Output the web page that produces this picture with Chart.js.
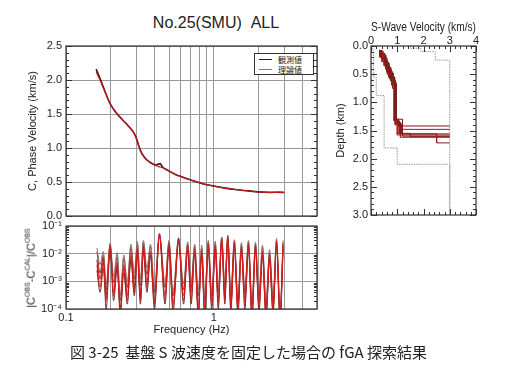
<!DOCTYPE html>
<html>
<head>
<meta charset="utf-8">
<script src="https://cdn.jsdelivr.net/npm/chart.js@4.4.1/dist/chart.umd.min.js"></script>
<style>
  body { margin: 0; background: #fff; width: 528px; height: 372px; position: relative; overflow: hidden;
         font-family: "Liberation Sans", Arial, sans-serif; color: #222; }
  canvas { position: absolute; }
  #title { position: absolute; left: 66px; width: 300px; top: 14px; text-align: center; font-size: 16px; }
  #legend { position: absolute; left: 254px; top: 53px; width: 58px; height: 20px; border: 1px solid #333;
            background: #fff; font-family: "Noto Sans CJK JP"; font-size: 8px; line-height: 9px; }
  #legend div { position: relative; height: 9px; padding-left: 23px; margin-top: 1px; }
  #legend span { position: absolute; left: 4px; top: 4px; width: 13px; height: 0; border-top: 1px solid; }
  #ylab2 { position: absolute; left: 30px; top: 268px; transform: translate(-50%, -50%) rotate(-90deg);
           white-space: nowrap; font-size: 11px; }
  #ylab2 sup { font-size: 7px; }
  #cap { position: absolute; left: 70px; top: 341px; font-family: "Noto Sans CJK JP"; font-size: 15px; white-space: nowrap; }
</style>
</head>
<body>
<div id="title">No.25(SMU)&nbsp;&nbsp;ALL</div>
<canvas id="chartPhase" width="330" height="220" style="left:0;top:0"></canvas>
<canvas id="chartMisfit" width="330" height="130" style="left:0;top:220px"></canvas>
<canvas id="chartProfile" width="198" height="230" style="left:330px;top:0"></canvas>
<div id="legend">
  <div><span style="border-color:#222"></span>観測値</div>
  <div><span style="border-color:#a07070"></span>理論値</div>
</div>
<div id="ylab2">|C<sup>OBS</sup>-C<sup>CAL</sup>|/C<sup>OBS</sup></div>
<div id="cap">図 3-25&nbsp; 基盤 S 波速度を固定した場合の fGA 探索結果</div>

<script>
// phase velocity dispersion (Hz, km/s)
const phaseFreq = [0.16, 0.17, 0.18, 0.19, 0.20, 0.21, 0.22, 0.24, 0.26, 0.28,
                   0.29, 0.30, 0.31, 0.32, 0.33, 0.35, 0.37, 0.40, 0.42, 0.435,
                   0.45, 0.48, 0.5, 0.55, 0.6, 0.7, 0.8, 0.9, 1.0, 1.2,
                   1.4, 1.7, 2.0, 2.4, 2.7, 3.0];
const obsVel = [2.16, 2.02, 1.88, 1.75, 1.64, 1.57, 1.51, 1.42, 1.34, 1.26,
                1.21, 1.14, 1.04, 0.96, 0.90, 0.83, 0.79, 0.75, 0.76, 0.77,
                0.72, 0.68, 0.66, 0.61, 0.58, 0.53, 0.49, 0.46, 0.44, 0.41,
                0.39, 0.37, 0.355, 0.35, 0.35, 0.345];
const calcVel = [2.12, 2.00, 1.87, 1.75, 1.64, 1.57, 1.51, 1.42, 1.34, 1.26,
                 1.21, 1.13, 1.03, 0.95, 0.90, 0.83, 0.79, 0.75, 0.73, 0.72,
                 0.71, 0.68, 0.66, 0.61, 0.58, 0.53, 0.49, 0.46, 0.44, 0.41,
                 0.39, 0.37, 0.355, 0.345, 0.35, 0.345];

// relative misfit |Cobs-Ccal|/Cobs
const misfitFreq = [0.162, 0.170, 0.179, 0.187, 0.199, 0.210, 0.222, 0.233, 0.246, 0.260,
                    0.275, 0.290, 0.304, 0.319, 0.334, 0.353, 0.373, 0.397, 0.429, 0.468,
                    0.498, 0.530, 0.578, 0.625, 0.666, 0.703, 0.743, 0.785, 0.829, 0.869,
                    0.918, 0.969, 1.024, 1.073, 1.133, 1.188, 1.245, 1.305, 1.379, 1.457,
                    1.539, 1.625, 1.717, 1.814, 1.916, 2.024, 2.138, 2.259, 2.386, 2.520,
                    2.662, 2.812, 2.947];
const misfitA = [0.016, 0.004, 0.012, 0.0008, 0.024, 0.0015, 0.011, 0.0003, 0.009, 0.001,
                 0.022, 0.002, 0.028, 0.0012, 0.03, 0.003, 0.022, 0.0006, 0.055, 0.0009,
                 0.03, 0.0004, 0.038, 0.0008, 0.027, 0.0009, 0.022, 0.0005, 0.02, 0.0003,
                 0.03, 0.0004, 0.028, 0.0006, 0.04, 0.0009, 0.046, 0.0004, 0.032, 0.0003,
                 0.025, 0.0006, 0.03, 0.0002, 0.026, 0.0004, 0.02, 0.0002, 0.014, 0.0003,
                 0.035, 0.0001, 0.03];
const misfitB = [0.012, 0.002, 0.009, 0.0005, 0.02, 0.0009, 0.008, 0.0002, 0.007, 0.0006,
                 0.017, 0.0012, 0.022, 0.0007, 0.025, 0.0018, 0.018, 0.0004, 0.05, 0.0006,
                 0.026, 0.0003, 0.034, 0.0005, 0.022, 0.0006, 0.018, 0.0003, 0.016, 0.0002,
                 0.026, 0.0003, 0.024, 0.0004, 0.036, 0.0006, 0.042, 0.0003, 0.028, 0.0002,
                 0.02, 0.0004, 0.026, 0.00015, 0.022, 0.0003, 0.017, 0.00012, 0.011, 0.0002,
                 0.03, 0.00008, 0.026];
const misfitC = [0.006, 0.0012, 0.007, 0.0003, 0.022, 0.0004, 0.005, 0.00008, 0.004, 0.0003,
                 0.011, 0.0006, 0.016, 0.0003, 0.02, 0.0009, 0.012, 0.0002, 0.052, 0.0003,
                 0.024, 0.00015, 0.036, 0.0003, 0.02, 0.0004, 0.015, 0.0001, 0.013, 0.00009,
                 0.024, 0.0002, 0.02, 0.0002, 0.038, 0.0003, 0.044, 0.00012, 0.026, 0.0001,
                 0.018, 0.0002, 0.024, 0.00006, 0.02, 0.00015, 0.012, 0.00007, 0.009, 0.0001,
                 0.028, 0.00005, 0.022];
const misfitD = [0.004, 0.0006, 0.005, 0.0002, 0.018, 0.0003, 0.004, 0.0001, 0.003, 0.0002,
                 0.008, 0.0004, 0.012, 0.0002, 0.015, 0.0006, 0.01, 0.00015, 0.048, 0.0002,
                 0.02, 0.0001, 0.03, 0.0002, 0.016, 0.0002, 0.012, 0.00008, 0.011, 0.00006,
                 0.02, 0.00012, 0.017, 0.00015, 0.033, 0.0002, 0.04, 0.0001, 0.022, 0.00008,
                 0.015, 0.00015, 0.02, 0.00005, 0.017, 0.0001, 0.01, 0.00005, 0.008, 0.00008,
                 0.024, 0.00004, 0.018];
const misfitE = [0.0025, 0.0004, 0.003, 0.0001, 0.014, 0.0002, 0.003, 0.00006, 0.002, 0.00015,
                 0.006, 0.0003, 0.009, 0.00015, 0.011, 0.0004, 0.008, 0.0001, 0.045, 0.00015,
                 0.017, 0.00008, 0.026, 0.00015, 0.013, 0.00015, 0.01, 0.00006, 0.009, 0.00005,
                 0.016, 0.0001, 0.014, 0.0001, 0.03, 0.00015, 0.036, 0.00008, 0.019, 0.00006,
                 0.012, 0.0001, 0.017, 0.00004, 0.014, 0.00008, 0.008, 0.00004, 0.006, 0.00006,
                 0.02, 0.00003, 0.015];

// S-wave velocity models: layer boundaries (km) and Vs per layer (km/s)
const modelDepths = [
  [0.07, 0.13, 0.30, 0.55, 1.30, 1.42, 3.0],
  [0.08, 0.18, 0.38, 0.62, 1.35, 1.48, 3.0],
  [0.07, 0.22, 0.45, 0.70, 1.38, 1.56, 3.0],
  [0.09, 0.25, 0.50, 0.75, 1.40, 1.58, 3.0],
  [0.08, 0.15, 0.35, 0.58, 1.33, 1.56, 1.72, 3.0],
  [0.07, 0.20, 0.42, 0.66, 1.30, 1.60, 3.0],
  [0.08, 0.28, 0.48, 0.64, 1.36, 1.62, 3.0],
  [0.07, 0.16, 0.40, 0.60, 1.32, 1.55, 1.61, 3.0]
];
const modelVs = [
  [0.33, 0.52, 0.68, 0.90, 1.05, 3.0],
  [0.36, 0.55, 0.75, 0.93, 1.10, 3.0],
  [0.40, 0.60, 0.80, 0.95, 1.15, 3.0],
  [0.45, 0.62, 0.82, 0.92, 1.00, 3.0],
  [0.38, 0.50, 0.70, 0.88, 1.08, 2.5, 3.0],
  [0.34, 0.58, 0.78, 0.96, 1.20, 3.0],
  [0.42, 0.64, 0.85, 0.94, 1.12, 3.0],
  [0.35, 0.56, 0.74, 0.91, 1.02, 1.5, 3.0]
];
const modelColors = ['#7a1c1c', '#9a1a1a', '#6e2424', '#b01818', '#8a2020', '#7a1c1c', '#a01a1a', '#d01818'];
// search range
const lowerDepths = [0, 0.05, 0.55, 0.88, 1.81, 2.10, 3.0];
const lowerVs = [0.04, 0.10, 0.20, 0.50, 1.00, 3.0];
const upperDepths = [0, 0.04, 0.10, 0.25, 3.0];
const upperVs = [1.5, 1.9, 2.45, 3.0];

const gridFreqs = [0.1, 0.2, 0.3, 0.4, 0.5, 0.6, 0.7, 0.8, 0.9, 1, 2, 3, 4, 5];

Chart.defaults.font.family = '"Liberation Sans", Arial, sans-serif';
Chart.defaults.font.size = 11;
Chart.defaults.color = '#222';

const toPts = (xs, ys) => xs.map((x, i) => ({ x: x, y: ys[i] }));
// staircase; the half-space (last layer) only gets its top
const stepPts = (depths, vs, openBottom) => {
  let pts = [];
  vs.forEach((v, i) => {
    pts.push({ x: v, y: depths[i] });
    if (!(openBottom && i === vs.length - 1)) pts.push({ x: v, y: depths[i + 1] });
  });
  return pts;
};

// box round the plot area
const framePlugin = {
  id: 'frame',
  afterDraw(chart) {
    const a = chart.chartArea, ctx = chart.ctx;
    ctx.save();
    ctx.strokeStyle = '#333';
    ctx.lineWidth = 1.2;
    ctx.strokeRect(a.left, a.top, a.right - a.left, a.bottom - a.top);
    ctx.restore();
  }
};

// inward tick marks on all sides
const innerTicks = (xTicks, yTicks) => ({
  id: 'innerTicks',
  afterDraw(chart) {
    const { ctx, chartArea: a, scales } = chart;
    ctx.save();
    ctx.strokeStyle = '#333';
    ctx.lineWidth = 1;
    ctx.beginPath();
    yTicks.forEach(([v, len]) => {
      const p = Math.round(scales.y.getPixelForValue(v)) + 0.5;
      ctx.moveTo(a.left, p); ctx.lineTo(a.left + len, p);
      ctx.moveTo(a.right, p); ctx.lineTo(a.right - len, p);
    });
    xTicks.forEach(([v, len]) => {
      const p = Math.round(scales.x.getPixelForValue(v)) + 0.5;
      ctx.moveTo(p, a.top); ctx.lineTo(p, a.top + len);
      ctx.moveTo(p, a.bottom); ctx.lineTo(p, a.bottom - len);
    });
    ctx.stroke();
    ctx.restore();
  }
});

let velTicks = [];
for (let i = 0; i <= 25; i++) velTicks.push([i / 10, i % 5 === 0 ? 6 : 3]);
let logTicks = [];
[1e-4, 1e-3, 1e-2].forEach(d => { for (let k = 2; k <= 9; k++) logTicks.push([d * k, 3]); });
let depthTicks = [];
for (let i = 0; i <= 30; i++) depthTicks.push([i / 10, i % 5 === 0 ? 6 : 3]);
let vsTicks = [];
for (let i = 0; i <= 20; i++) vsTicks.push([i / 5, i % 5 === 0 ? 6 : 3]);

const noPadY = s => { s.paddingTop = 0; s.paddingBottom = 0; };

// phase velocity chart
new Chart(document.getElementById('chartPhase'), {
  type: 'line',
  data: {
    datasets: [
      { label: '理論値', data: toPts(phaseFreq, calcVel), borderColor: '#c8161d', borderWidth: 1.2, pointRadius: 0, tension: 0.3 },
      { label: '観測値', data: toPts(phaseFreq, obsVel), borderColor: '#2a1818', borderWidth: 1.6, pointRadius: 0, tension: 0.3 }
    ]
  },
  options: {
    responsive: false,
    animation: false,
    layout: { padding: { left: 26, top: 46, right: 13, bottom: 4 } },
    plugins: { legend: { display: false }, tooltip: { enabled: false } },
    scales: {
      x: {
        type: 'logarithmic', min: 0.1, max: 5,
        afterBuildTicks: s => { s.ticks = gridFreqs.map(v => ({ value: v })); },
        ticks: { display: false },
        grid: { color: '#999', drawTicks: false },
        afterFit: s => { s.height = 0; s.paddingLeft = 0; s.paddingRight = 0; }
      },
      y: {
        min: 0, max: 2.5,
        ticks: { stepSize: 0.5, padding: 4, callback: v => v.toFixed(1) },
        grid: { color: '#999', drawTicks: false },
        title: { display: true, text: 'C, Phase Velocity (km/s)', padding: { top: 0, bottom: 0 } },
        afterFit: s => { s.width = 40; noPadY(s); }
      }
    }
  },
  plugins: [framePlugin, innerTicks([], velTicks)]
});

// misfit chart
const misfitSets = [
  { data: misfitC, color: '#d41c1c', w: 1.2 },
  { data: misfitD, color: '#c21a1a', w: 1.1 },
  { data: misfitA, color: '#8d6e6e', w: 1 },
  { data: misfitB, color: '#7a3a3a', w: 1 },
  { data: misfitE, color: '#6e2a2a', w: 1 }
];
new Chart(document.getElementById('chartMisfit'), {
  type: 'line',
  data: {
    datasets: misfitSets.map(m => ({
      data: toPts(misfitFreq, m.data), borderColor: m.color, borderWidth: m.w,
      pointRadius: 0, cubicInterpolationMode: 'monotone'
    }))
  },
  options: {
    responsive: false,
    animation: false,
    layout: { padding: { left: 0, top: 6, right: 13, bottom: 13 } },
    plugins: { legend: { display: false }, tooltip: { enabled: false } },
    scales: {
      x: {
        type: 'logarithmic', min: 0.1, max: 5,
        afterBuildTicks: s => { s.ticks = gridFreqs.map(v => ({ value: v })); },
        ticks: { autoSkip: false, maxRotation: 0, padding: 2, callback: v => v === 0.1 ? '0.1' : (v === 1 ? '1' : '') },
        grid: { color: '#999', drawTicks: false },
        title: { display: true, text: 'Frequency (Hz)', padding: { top: 0, bottom: 0 } },
        afterFit: s => { s.height = 28; s.paddingLeft = 0; s.paddingRight = 0; }
      },
      y: {
        type: 'logarithmic', min: 1e-4, max: 1e-1,
        afterBuildTicks: s => { s.ticks = [1e-4, 1e-3, 1e-2, 1e-1].map(v => ({ value: v })); },
        ticks: { padding: 4, callback: v => '10' + { '-4': '⁻⁴', '-3': '⁻³', '-2': '⁻²', '-1': '⁻¹' }[Math.round(Math.log10(v))] },
        grid: { color: '#999', drawTicks: false },
        afterFit: s => { s.width = 66; noPadY(s); }
      }
    }
  },
  plugins: [framePlugin, innerTicks([], logTicks)]
});

// S-wave velocity profile chart
const profileSets = modelDepths.map((d, i) => ({
  data: stepPts(d, modelVs[i], true), borderColor: modelColors[i], borderWidth: 1, pointRadius: 0
}));
profileSets.push({ data: stepPts(lowerDepths, lowerVs, false), borderColor: '#999', borderWidth: 1, borderDash: [1.5, 1], pointRadius: 0 });
profileSets.push({ data: stepPts(upperDepths, upperVs, false), borderColor: '#999', borderWidth: 1, borderDash: [1.5, 1], pointRadius: 0 });

new Chart(document.getElementById('chartProfile'), {
  type: 'line',
  data: { datasets: profileSets },
  options: {
    responsive: false,
    animation: false,
    layout: { padding: { left: 4, top: 16, right: 52, bottom: 15 } },
    plugins: { legend: { display: false }, tooltip: { enabled: false } },
    scales: {
      x: {
        type: 'linear', position: 'top', min: 0, max: 4,
        ticks: { stepSize: 1, padding: -2 },
        grid: { display: false, drawTicks: false },
        title: { display: true, text: 'S-Wave Velocity (km/s)', font: { size: 12 }, padding: { top: 4, bottom: 0 } },
        afterFit: s => { s.height = 30; }
      },
      y: {
        reverse: true, min: 0, max: 3,
        ticks: { stepSize: 0.5, padding: 3, callback: v => v.toFixed(1) },
        grid: { display: false, drawTicks: false },
        title: { display: true, text: 'Depth (km)', padding: { top: 0, bottom: 0 } },
        afterFit: s => { s.width = 37; }
      }
    }
  },
  plugins: [framePlugin, innerTicks(vsTicks, depthTicks)]
});
</script>
</body>
</html>
